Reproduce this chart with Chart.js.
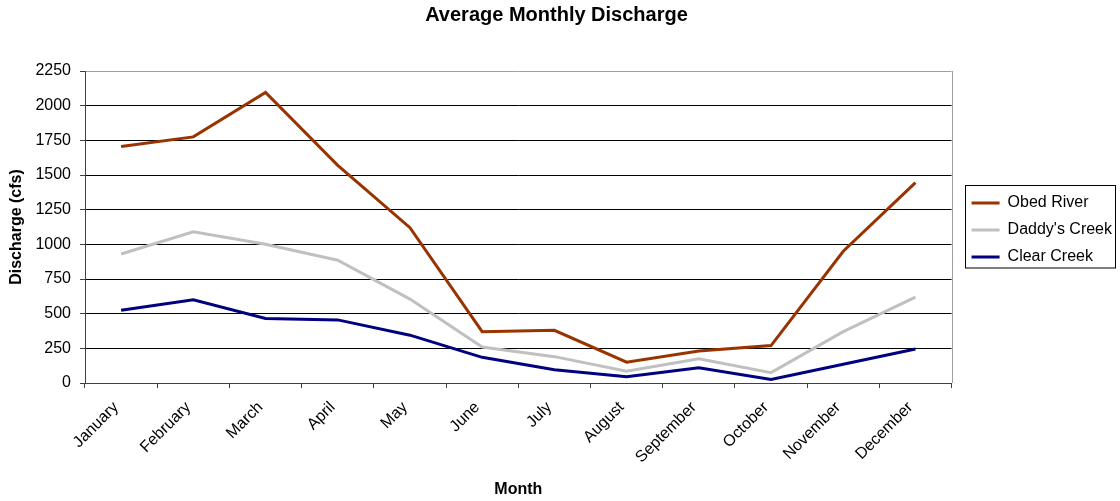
<!DOCTYPE html>
<html lang="en">
<head>
    <meta charset="UTF-8">
    <title>Average Monthly Discharge</title>
    <script src="https://cdn.jsdelivr.net/npm/chart.js"></script>
    <style>
        html, body { margin: 0; padding: 0; background: #fff; }
        #wrap { width: 1120px; height: 501px; }
    </style>
</head>
<body>
    <div id="wrap">
        <canvas id="myChart" width="1120" height="501"></canvas>
    </div>

    <script>
        // Monthly averages, cfs
        const months = ['January', 'February', 'March', 'April', 'May', 'June',
                        'July', 'August', 'September', 'October', 'November', 'December'];
        const obedRiver   = [1705, 1775, 2095, 1570, 1120, 370, 380, 150, 230, 270, 950, 1445];
        const daddysCreek = [930, 1090, 1000, 885, 605, 260, 190, 85, 175, 75, 370, 620];
        const clearCreek  = [525, 600, 465, 455, 345, 185, 95, 45, 110, 25, 135, 245];
        const yTicks = [0, 250, 500, 750, 1000, 1250, 1500, 1750, 2000, 2250];

        const font = 'Liberation Sans, Arial, sans-serif';

        // Grey frame on the right of the plot + box around the legend
        const framePlugin = {
            id: 'frame',
            afterLayout(chart) {
                // legend sits a little away from the plot, centred on it vertically
                const lg = chart.legend;
                const area = chart.chartArea;
                lg.left += 9;
                lg.right += 9;
                lg.top = area.top + 6;
                lg.bottom = area.bottom;
                lg.height = lg.bottom - lg.top;
            },
            beforeDatasetsDraw(chart) {
                const { ctx, chartArea } = chart;
                ctx.save();
                ctx.strokeStyle = '#a0a0a0';
                ctx.lineWidth = 1;
                ctx.beginPath();
                ctx.moveTo(Math.round(chartArea.right) + 0.5, chartArea.top);
                ctx.lineTo(Math.round(chartArea.right) + 0.5, chartArea.bottom);
                ctx.stroke();
                ctx.restore();
            },
            afterDraw(chart) {
                const boxes = chart.legend.legendHitBoxes;
                if (!boxes || !boxes.length) return;
                const ctx = chart.ctx;
                const first = boxes[0];
                const last = boxes[boxes.length - 1];
                const x = Math.round(first.left) - 6.5;
                const y = Math.round(first.top) - 9.5;
                const h = Math.round(last.top + last.height) + 3 - y;
                ctx.save();
                ctx.strokeStyle = '#000';
                ctx.lineWidth = 1;
                ctx.strokeRect(x, y, 150, h);
                ctx.restore();
            }
        };

        const ctx = document.getElementById('myChart').getContext('2d');
        window.myChart = new Chart(ctx, {
            type: 'line',
            data: {
                labels: months,
                datasets: [
                    {
                        label: 'Obed River',
                        data: obedRiver,
                        borderColor: '#993300',
                        backgroundColor: '#993300',
                        borderWidth: 3,
                        pointRadius: 0,
                        fill: false
                    },
                    {
                        label: "Daddy's Creek",
                        data: daddysCreek,
                        borderColor: '#c0c0c0',
                        backgroundColor: '#c0c0c0',
                        borderWidth: 3,
                        pointRadius: 0,
                        fill: false
                    },
                    {
                        label: 'Clear Creek',
                        data: clearCreek,
                        borderColor: '#000080',
                        backgroundColor: '#000080',
                        borderWidth: 3,
                        pointRadius: 0,
                        fill: false
                    }
                ]
            },
            options: {
                responsive: false,
                animation: false,
                layout: { padding: { right: 7 } },
                plugins: {
                    title: {
                        display: true,
                        text: 'Average Monthly Discharge',
                        color: '#000',
                        font: { family: font, size: 20, weight: 'bold' },
                        padding: { top: 3, bottom: 44 }
                    },
                    legend: {
                        position: 'right',
                        labels: {
                            color: '#000',
                            font: { family: font, size: 16 },
                            boxWidth: 28,
                            boxHeight: 3,
                            padding: 11,
                            generateLabels(chart) {
                                return chart.data.datasets.map((ds, i) => ({
                                    text: ds.label,
                                    fillStyle: ds.borderColor,
                                    strokeStyle: ds.borderColor,
                                    lineWidth: 0,
                                    hidden: false,
                                    datasetIndex: i,
                                    fontColor: '#000'
                                }));
                            }
                        }
                    },
                    tooltip: { enabled: false }
                },
                scales: {
                    x: {
                        offset: true,
                        afterFit(scale) { scale.height = 118; },
                        border: { display: true, color: '#404040', width: 1 },
                        grid: {
                            offset: true,
                            drawOnChartArea: false,
                            drawTicks: true,
                            tickLength: 5,
                            tickColor: '#404040'
                        },
                        ticks: {
                            autoSkip: false,
                            minRotation: 45,
                            maxRotation: 45,
                            labelOffset: -5,
                            color: '#000',
                            padding: 10,
                            font: { family: font, size: 16 }
                        },
                        title: {
                            display: true,
                            text: 'Month',
                            color: '#000',
                            font: { family: font, size: 16, weight: 'bold' },
                            padding: { top: 4, bottom: 2 }
                        }
                    },
                    y: {
                        min: 0,
                        max: 2250,
                        afterFit(scale) { scale.width = 85; },
                        afterBuildTicks(scale) {
                            scale.ticks = yTicks.map(v => ({ value: v }));
                        },
                        border: { display: true, color: '#404040', width: 1 },
                        grid: {
                            color: c => c.tick && c.tick.value === 2250 ? '#a0a0a0' : '#000',
                            lineWidth: 1,
                            drawTicks: true,
                            tickLength: 5,
                            tickColor: '#404040'
                        },
                        ticks: {
                            color: '#000',
                            padding: 9,
                            font: { family: font, size: 16 },
                            callback: v => String(v)
                        },
                        title: {
                            display: true,
                            text: 'Discharge (cfs)',
                            color: '#000',
                            font: { family: font, size: 16, weight: 'bold' },
                            padding: { top: 7, bottom: 4 }
                        }
                    }
                }
            },
            plugins: [framePlugin]
        });
    </script>
</body>
</html>
